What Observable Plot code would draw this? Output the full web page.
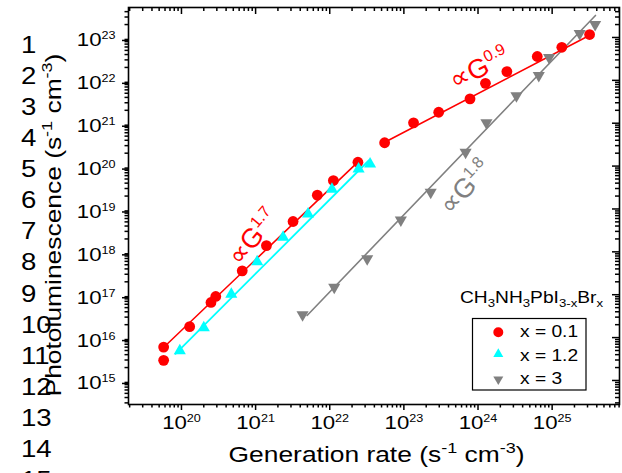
<!DOCTYPE html>
<html><head><meta charset="utf-8">
<script src="https://cdn.jsdelivr.net/npm/d3@7"></script>
<script src="https://cdn.jsdelivr.net/npm/@observablehq/plot@0.6"></script>
<style>html,body{margin:0;padding:0;background:#fff;overflow:hidden;} svg{display:block}</style>
</head><body><div id="chart"></div>
<script>
// ---------- data ----------
const redG  = [5.75e19,5.75e19,1.29e20,2.5e20,2.9e20,6.6e20,1.4e21,3.2e21,6.8e21,1.12e22,2.4e22,5.5e22,1.35e23,2.95e23,7.8e23,1.26e24,2.45e24,6.3e24,1.35e25,3.2e25];
const redPL = [6.0e15,2.95e15,1.8e16,6.6e16,9.1e16,3.6e17,1.4e18,5.1e18,2.1e19,4.6e19,1.23e20,3.5e20,1.02e21,1.8e21,3.7e21,8.5e21,1.6e22,3.6e22,5.9e22,1.17e23];
const cyanG  = [9.5e19,2.0e20,4.7e20,1.05e21,2.35e21,5.1e21,1.07e22,2.45e22,3.5e22];
const cyanPL = [4.9e15,1.7e16,1.02e17,5.9e17,2.2e18,7.6e18,2.9e19,8.5e19,1.12e20];
const grayG  = [4.3e21,1.15e22,3.2e22,9.1e22,2.3e23,6.8e23,1.3e24,3.3e24,6.6e24,9.1e24,2.35e25,3.8e25];
const grayPL = [3.4e16,1.5e17,6.9e17,5.5e18,2.45e19,2.1e20,1.02e21,4.4e21,1.3e22,3.4e22,1.23e23,2.0e23];
// fit lines (end points)
const fitRedLowG  = [5.2e19, 2.39e22],  fitRedLowPL  = [5.0e15, 1.24e20];
const fitRedHighG = [5.52e22, 3.36e25], fitRedHighPL = [3.61e20, 1.17e23];
const fitCyanG    = [8.3e19, 3.36e22],  fitCyanPL    = [4.17e15, 1.35e20];
const fitGrayG    = [4.95e21, 3.84e25], fitGrayPL    = [3.28e16, 3.26e23];
// annotations
const annotLabels = ["∝G^{0.9}", "∝G^{1.7}", "∝G^{1.8}"];
const annotG  = [1.05e24, 9.3e20, 6.8e23];
const annotPL = [1.9e22, 2.2e18, 3.2e19];
// axes
const xMajor = [1e20,1e21,1e22,1e23,1e24,1e25];
const yMajor = [1e15,1e16,1e17,1e18,1e19,1e20,1e21,1e22,1e23];
const xDomain = [1.93e19, 8.1e25];
const yDomain = [2.75e14, 5.0e23];
const xTitle = "Generation rate (s^{-1} cm^{-3})";
const yTitle = "Photoluminescence (s^{-1} cm^{-3})";
const legendTitle = "CH_{3}NH_{3}PbI_{3-x}Br_{x}";
const legendLabels = ["x = 0.1", "x = 1.2", "x = 3"];
const sideNumbers = ["1","2","3","4","5","6","7","8","9","10","11","12","13","14","15"];

// ---------- helpers ----------
const svgns = "http://www.w3.org/2000/svg";
const FONT = "'Liberation Sans', Arial, Helvetica, sans-serif";
const STRETCH = 1.2;
function minorTicks(domain){
  const out=[];
  for (let k=Math.floor(Math.log10(domain[0])); k<=Math.ceil(Math.log10(domain[1])); k++)
    for (let m=2;m<=9;m++){ const v=m*Math.pow(10,k); if (v>=domain[0] && v<=domain[1]) out.push(v); }
  return out;
}
const xMinor = minorTicks(xDomain), yMinor = minorTicks(yDomain);
const sqrt3 = Math.sqrt(3);
const triangleDown = { draw(ctx, size){ const y = -Math.sqrt(size/(sqrt3*3)); ctx.moveTo(0,-y*2); ctx.lineTo(-sqrt3*y, y); ctx.lineTo(sqrt3*y, y); ctx.closePath(); } };
const zip = (a,b) => a.map((v,i)=>({g:v, pl:b[i]}));
const expFmt = d => `10^{${Math.round(Math.log10(d))}}`;

function richify(el, small, supShift, subShift){
  const s = el.textContent;
  if (!/[\^_]\{/.test(s)) return;
  const parts=[]; const re=/([\^_])\{([^}]*)\}/g; let last=0, m;
  while((m=re.exec(s))){ if(m.index>last) parts.push({t:s.slice(last,m.index),k:0}); parts.push({t:m[2],k:m[1]==="^"?1:-1}); last=re.lastIndex; }
  if(last<s.length) parts.push({t:s.slice(last),k:0});
  el.textContent=""; let cur=0;
  for(const p of parts){
    const ts=document.createElementNS(svgns,"tspan");
    const target = p.k===1 ? -supShift : p.k===-1 ? subShift : 0;
    ts.setAttribute("dy", target-cur); cur=target;
    if(p.k) ts.setAttribute("font-size", small);
    ts.textContent=p.t; el.appendChild(ts);
  }
}
function stretch(el){
  if (el.hasAttribute("data-nostretch")) return;
  const x = +el.getAttribute("x") || 0, y = +el.getAttribute("y") || 0;
  const t = el.getAttribute("transform") || "";
  el.setAttribute("transform", `${t} translate(${x},${y}) scale(${STRETCH},1) translate(${-x},${-y})`);
}
function addText(parent, x, y, str, {size=16, anchor="start", fill="#000", rotate=0, small=11, sup=6, sub=4}={}){
  const t=document.createElementNS(svgns,"text");
  t.setAttribute("transform", `translate(${x},${y})`+(rotate?` rotate(${rotate})`:""));
  t.setAttribute("font-size", size); t.setAttribute("text-anchor", anchor); t.setAttribute("fill", fill);
  t.textContent=str; richify(t, small, sup, sub); parent.appendChild(t); return t;
}

const innerW = 622-128-3, innerH = 473-7-69;
const RED="#ff0000", CYAN="#00ffff", GRAY="#808080";
const annotColors=[RED,RED,GRAY], annotRot=[-26,-50,-48];

const plot = Plot.plot({
  width:622, height:473, marginLeft:128, marginTop:7, marginRight:3, marginBottom:69,
  x:{type:"log", domain:xDomain}, y:{type:"log", domain:yDomain},
  style:{fontFamily:FONT, background:"#fff", color:"#000"},
  marks:[
    Plot.axisX(xMajor,{anchor:"bottom", tickSize:6, tickPadding:5, tickFormat:expFmt, fontSize:18.5, label:null, strokeWidth:1.5}),
    Plot.axisX(xMinor,{anchor:"bottom", tickSize:3.5, tickFormat:()=>"", label:null, strokeWidth:1.5}),
    Plot.axisY(yMajor,{anchor:"left", tickSize:6, tickPadding:7, tickFormat:expFmt, fontSize:18.5, dy:3, label:null, strokeWidth:1.5}),
    Plot.axisY(yMinor,{anchor:"left", tickSize:3.5, tickFormat:()=>"", label:null, strokeWidth:1.5}),
    Plot.tickX(xMajor,{x:d=>d, insetBottom:innerH-7, strokeWidth:1.5}),
    Plot.tickX(xMinor,{x:d=>d, insetBottom:innerH-4, strokeWidth:1.5}),
    Plot.tickY(yMajor,{y:d=>d, insetLeft:innerW-7, strokeWidth:1.5}),
    Plot.tickY(yMinor,{y:d=>d, insetLeft:innerW-4, strokeWidth:1.5}),
    Plot.frame({stroke:"#000", strokeWidth:1.6}),
    Plot.line(zip(fitRedLowG,fitRedLowPL),{x:"g",y:"pl",stroke:RED,strokeWidth:1.6}),
    Plot.line(zip(fitRedHighG,fitRedHighPL),{x:"g",y:"pl",stroke:RED,strokeWidth:1.6}),
    Plot.line(zip(fitCyanG,fitCyanPL),{x:"g",y:"pl",stroke:CYAN,strokeWidth:1.8}),
    Plot.line(zip(fitGrayG,fitGrayPL),{x:"g",y:"pl",stroke:GRAY,strokeWidth:1.6}),
    Plot.dot(zip(redG,redPL),{x:"g",y:"pl",fill:RED,r:5.4,symbol:"circle"}),
    Plot.dot(zip(cyanG,cyanPL),{x:"g",y:"pl",fill:CYAN,r:4.5,symbol:"triangle"}),
    Plot.dot(zip(grayG,grayPL),{x:"g",y:"pl",fill:GRAY,r:4.5,symbol:triangleDown}),
    ...annotLabels.map((lab,i)=>Plot.text([{g:annotG[i],pl:annotPL[i],t:lab}],{x:"g",y:"pl",text:"t",fill:annotColors[i],rotate:annotRot[i],fontSize:27,textAnchor:"middle"}))
  ]
});

const svg = plot;
// rich text for Plot-made texts: tick labels get small superscripts, annotations larger ones
svg.querySelectorAll("text").forEach(el=>{
  const g = el.closest("g[aria-label]");
  const lab = g ? g.getAttribute("aria-label") : "";
  if (/tick label/.test(lab)) richify(el,10.5,7,4);
  else { richify(el,16,11,4); el.setAttribute("data-nostretch","1"); }
});

// side numbers
sideNumbers.forEach((n,i)=>addText(svg, 21, 53+31.07*i, n, {size:23}));
// axis titles
addText(svg, 376.5, 461.7, xTitle, {size:22, anchor:"middle", small:15, sup:9});
addText(svg, 61, 225, yTitle, {size:22, anchor:"middle", rotate:-90, small:15, sup:9});
// legend
addText(svg, 603, 302.7, legendTitle, {size:16, anchor:"end", small:11, sub:4});
const box=document.createElementNS(svgns,"rect");
box.setAttribute("x",472.5); box.setAttribute("y",318.5); box.setAttribute("width",113.5); box.setAttribute("height",71.5);
box.setAttribute("fill","#fff"); box.setAttribute("stroke","#000"); box.setAttribute("stroke-width",1.2);
svg.appendChild(box);
const legSyms=[d3.symbolCircle, d3.symbolTriangle, triangleDown], legSizes=[78.5,43.3,43.3], legCols=[RED,CYAN,GRAY];
const legY=[332.3,354,379.3], legTextY=[337.3,361,384];
legendLabels.forEach((lab,i)=>{
  const p=document.createElementNS(svgns,"path");
  p.setAttribute("d", d3.symbol(legSyms[i], legSizes[i])());
  p.setAttribute("transform",`translate(498.3,${legY[i]})`);
  p.setAttribute("fill",legCols[i]);
  svg.appendChild(p);
  addText(svg, 520, legTextY[i], lab, {size:16});
});
// stretch all text horizontally (Arial-like glyphs drawn wider, as in the reference)
svg.querySelectorAll("text").forEach(stretch);
document.getElementById("chart").appendChild(svg);
</script>
</body></html>
